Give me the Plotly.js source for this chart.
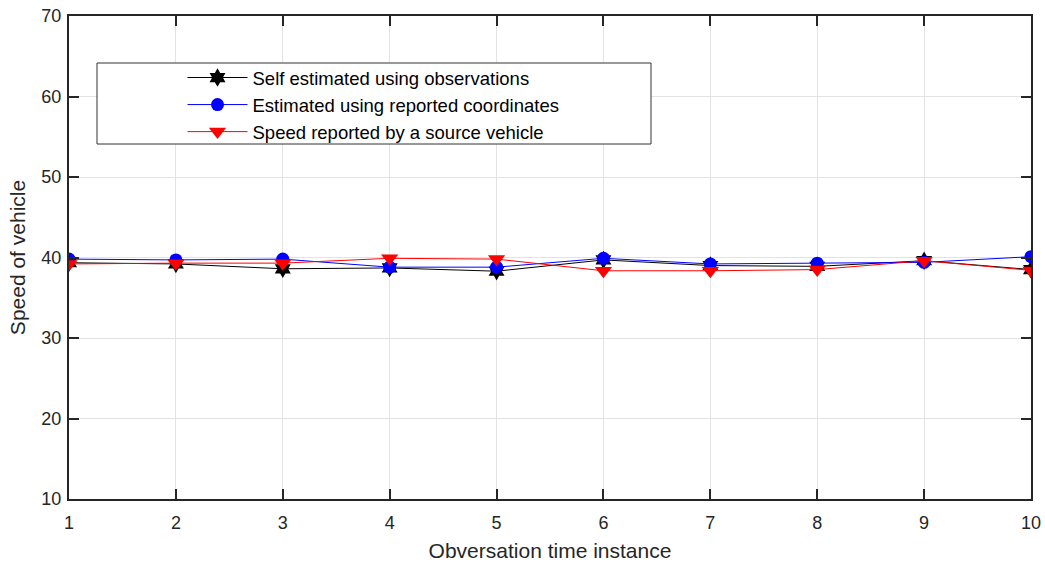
<!DOCTYPE html>
<html>
<head>
<meta charset="utf-8">
<script src="https://cdn.plot.ly/plotly-3.0.1.min.js"></script>
<style>html,body{margin:0;padding:0;background:#fff;}#chart{width:1045px;height:562px;}</style>
</head>
<body>
<div id="chart"></div>
<script>
const instances = [1, 2, 3, 4, 5, 6, 7, 8, 9, 10];
const selfEstimated = [39.35, 39.2, 38.6, 38.7, 38.3, 39.7, 39.0, 38.9, 39.6, 38.5];
const reportedCoords = [39.8, 39.7, 39.8, 38.8, 38.8, 39.9, 39.2, 39.3, 39.4, 40.1];
const reportedSpeed = [39.2, 39.3, 39.3, 39.9, 39.8, 38.35, 38.35, 38.5, 39.6, 38.4];
const seriesNames = ["Self estimated using observations", "Estimated using reported coordinates", "Speed reported by a source vehicle"];
const xTickLabels = ["1","2","3","4","5","6","7","8","9","10"];

const fam = "Liberation Sans, Arial, sans-serif";
const tickFont = {family: fam, size: 18, color: "#262626"};
const titleFont = {family: fam, size: 21, color: "#262626"};

const traces = [
  {x: instances, y: selfEstimated, name: seriesNames[0], mode: "lines+markers",
   line: {color: "#000000", width: 1}, marker: {symbol: "hexagram", size: 14, color: "#000000"}},
  {x: instances, y: reportedCoords, name: seriesNames[1], mode: "lines+markers",
   line: {color: "#0000ff", width: 1}, marker: {symbol: "circle", size: 13, color: "#0000ff"}},
  {x: instances, y: reportedSpeed, name: seriesNames[2], mode: "lines+markers",
   line: {color: "#ff0000", width: 1}, marker: {symbol: "triangle-down", size: 15, color: "#ff0000"}}
];

const axisCommon = {
  showgrid: true, gridcolor: "#e3e3e3", gridwidth: 1,
  showline: true, linecolor: "#262626", linewidth: 2, mirror: "ticks",
  ticks: "inside", ticklen: 10, tickwidth: 2, tickcolor: "#262626",
  zeroline: false, tickfont: tickFont
};

const layout = {
  width: 1045, height: 562,
  margin: {l: 69, r: 14, t: 16, b: 63},
  paper_bgcolor: "#ffffff", plot_bgcolor: "#ffffff",
  font: tickFont,
  showlegend: true,
  legend: {x: 0.118, y: 0.911, xanchor: "left", yanchor: "top",
           bgcolor: "rgba(0,0,0,0)", borderwidth: 0,
           font: {family: fam, size: 18.5, color: "#000000"},
           itemwidth: 60, tracegroupgap: 0},
  shapes: [{type: "rect", xref: "paper", yref: "paper",
            x0: (97-69)/962, x1: (651-69)/962, y0: (499-144)/483, y1: (499-63)/483,
            line: {color: "#333333", width: 1}, fillcolor: "#ffffff", layer: "above"}],
  xaxis: Object.assign({}, axisCommon, {range: [1, 10], tickvals: instances, ticktext: xTickLabels,
          ticklabelstandoff: 6,
          title: {text: "Obversation time instance", font: titleFont, standoff: 12}}),
  yaxis: Object.assign({}, axisCommon, {range: [10, 70], dtick: 10, tick0: 10,
          ticklabelstandoff: 2,
          title: {text: "Speed of vehicle", font: titleFont, standoff: 10}})
};

Plotly.newPlot("chart", traces, layout, {displayModeBar: false, staticPlot: true});
</script>
</body>
</html>
